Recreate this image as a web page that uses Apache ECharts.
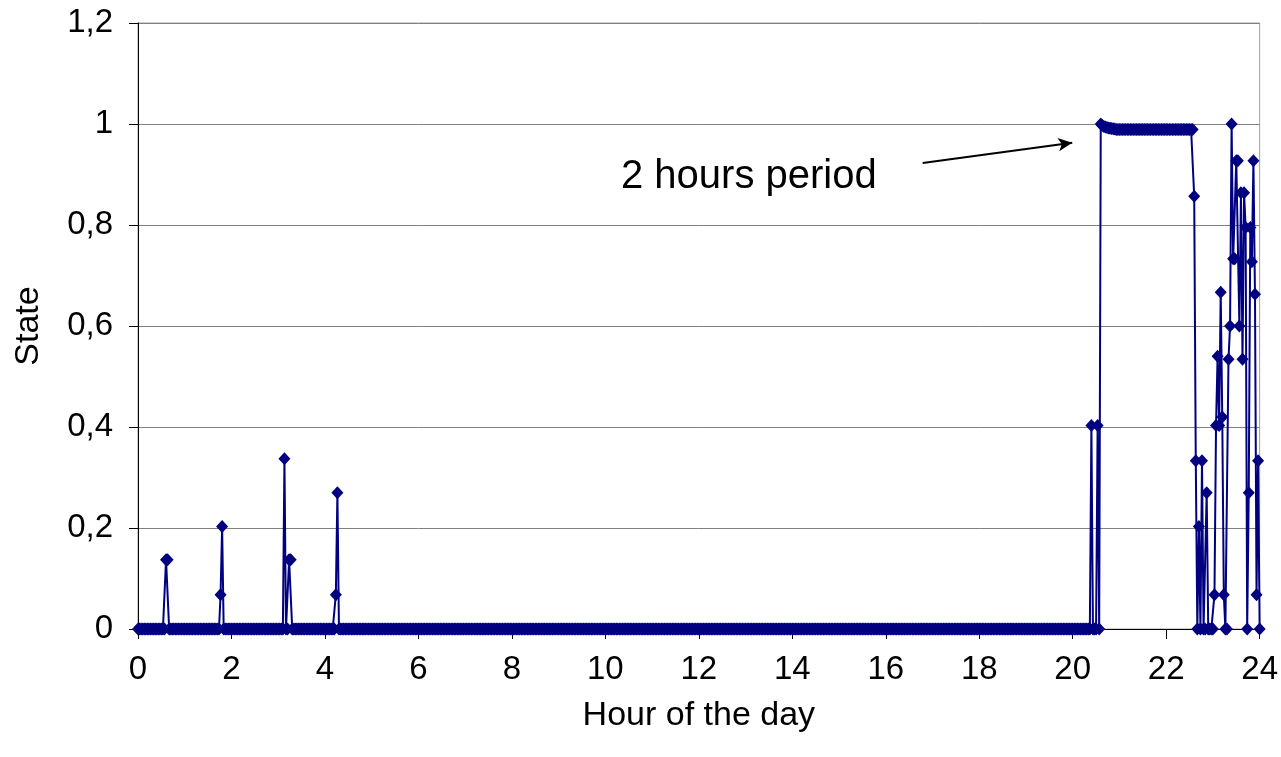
<!DOCTYPE html>
<html>
<head>
<meta charset="utf-8">
<script src="https://cdn.jsdelivr.net/npm/echarts@6/dist/echarts.min.js"></script>
<style>
  html, body { margin: 0; padding: 0; background: #ffffff; }
  #chart { width: 1281px; height: 757px; }
</style>
</head>
<body>
<div id="chart"></div>
<script>
// Sampling step of the recorded state (minutes)
const stepMinutes = 2;

// State values, as [value, number of consecutive samples]
const stateRuns = [
  [0, 18], [0.137, 2], [0, 33], [0.068, 1], [0.203, 1], [0, 39],
  [0.337, 1], [0, 2], [0.137, 2], [0, 28], [0.068, 1], [0.27, 1],
  [0, 483], [0.403, 1], [0, 3], [0.403, 1], [0, 1],
  [1.0, 1], [0.997, 1], [0.995, 1], [0.994, 1], [0.993, 1], [0.992, 1],
  [0.9915, 1], [0.991, 1], [0.9905, 1], [0.99, 1], [0.989, 50],
  [0.857, 1], [0.333, 1], [0, 1], [0.203, 1], [0, 1], [0.333, 1], [0, 2],
  [0.27, 1], [0, 4], [0.068, 1], [0.403, 1], [0.54, 1], [0.403, 1],
  [0.667, 1], [0.42, 1], [0.068, 1], [0, 2], [0.534, 1], [0.6, 1],
  [1.0, 1], [0.733, 2], [0.927, 2], [0.6, 1], [0.864, 1], [0.534, 1],
  [0.864, 1], [0.795, 1], [0, 1], [0.27, 1], [0.795, 1], [0.727, 1],
  [0.927, 1], [0.663, 1], [0.068, 1], [0.333, 1], [0, 1]
];

// Annotation
const annotationText = '2 hours period';
const annotationTextAt = [13.07, 0.895];
const arrowFrom = [16.79, 0.923];
const arrowTo = [19.99, 0.963];

const xAxisName = 'Hour of the day';
const yAxisName = 'State';

// Expand the runs into [hour, state] samples
const points = [];
stateRuns.forEach(function (run) {
  for (let k = 0; k < run[1]; k++) {
    const hour = points.length * stepMinutes / 60;
    points.push([hour, run[0]]);
  }
});

const FONT = 'Liberation Sans, Arial, sans-serif';
const chart = echarts.init(document.getElementById('chart'), null, { renderer: 'canvas' });

chart.setOption({
  animation: false,
  backgroundColor: '#ffffff',
  grid: {
    left: 138, right: 21, top: 23, bottom: 128,
    show: true, borderColor: '#a0a0a0', borderWidth: 1, backgroundColor: '#ffffff'
  },
  xAxis: {
    type: 'value',
    min: 0, max: 24, interval: 2,
    name: xAxisName,
    nameLocation: 'middle',
    nameGap: 70,
    nameTextStyle: { fontFamily: FONT, fontSize: 34, color: '#000' },
    axisLine: { show: true, onZero: false, lineStyle: { color: '#000', width: 1 } },
    axisTick: { show: true, inside: false, length: 10, lineStyle: { color: '#000' } },
    axisLabel: { margin: 24, fontFamily: FONT, fontSize: 33, color: '#000' },
    splitLine: { show: false }
  },
  yAxis: {
    type: 'value',
    min: 0, max: 1.2, interval: 0.2,
    name: yAxisName,
    nameLocation: 'middle',
    nameGap: 92,
    nameTextStyle: { fontFamily: FONT, fontSize: 34, color: '#000' },
    axisLine: { show: true, lineStyle: { color: '#000', width: 1 } },
    axisTick: { show: true, inside: false, length: 9, lineStyle: { color: '#000' } },
    axisLabel: {
      margin: 25, fontFamily: FONT, fontSize: 33, color: '#000',
      formatter: function (v) { return String(Math.round(v * 10) / 10).replace('.', ','); }
    },
    splitLine: { show: true, lineStyle: { color: '#808080', width: 1 } }
  },
  series: [{
    type: 'line',
    data: points,
    showSymbol: true,
    showAllSymbol: true,
    symbol: 'diamond',
    symbolSize: [12, 13],
    itemStyle: { color: '#000080' },
    lineStyle: { color: '#000080', width: 2 },
    emphasis: { disabled: true },
    markLine: {
      silent: true,
      symbol: ['none', 'arrow'],
      symbolSize: [10, 14],
      label: { show: false },
      lineStyle: { color: '#000000', width: 2, type: 'solid' },
      data: [[{ coord: arrowFrom }, { coord: arrowTo }]]
    },
    markPoint: {
      silent: true,
      symbol: 'circle',
      symbolSize: 1,
      itemStyle: { color: 'rgba(0,0,0,0)' },
      label: {
        show: true, position: 'inside', formatter: annotationText,
        fontFamily: FONT, fontSize: 40, color: '#000'
      },
      data: [{ coord: annotationTextAt }]
    }
  }]
});
</script>
</body>
</html>
